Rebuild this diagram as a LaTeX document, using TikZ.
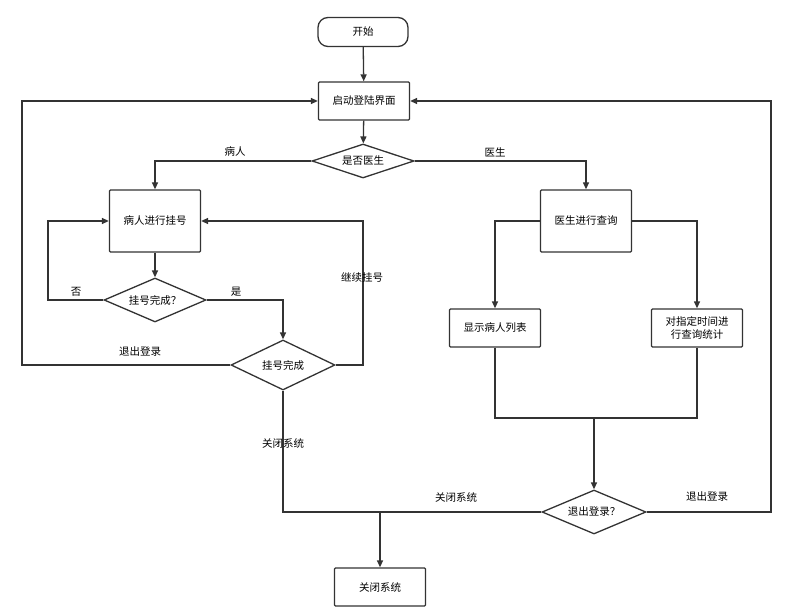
\documentclass[tikz,border=0pt]{standalone}
\usepackage{fontspec}
\setmainfont{Noto Sans CJK SC}
\usetikzlibrary{shapes.geometric,arrows.meta}
\begin{document}
\begin{tikzpicture}[x=1pt,y=-1pt,font=\fontsize{10.5}{13}\selectfont,
  line/.style={draw=black!80,line width=1.3pt},
  arr/.style={line,-{Triangle[length=7pt,width=6pt]}},
  box/.style={draw=black!80,line width=1.3pt,fill=white,minimum width=91pt,minimum height=38pt,inner sep=1pt,align=center,rounded corners=1pt},
  dia/.style={draw=black!80,line width=1.3pt,fill=white,diamond,aspect=2.6,inner sep=0pt},
  lab/.style={font=\fontsize{10.5}{13}\selectfont}]
\useasboundingbox (0,0) rectangle (799,612);
\node[draw=black!80,line width=1.3pt,rounded corners=10pt,minimum width=90pt,minimum height=29pt] (start) at (363,32) {开始};
\node[box] (login) at (364,101) {启动登陆界面};
\node[dia,minimum width=102pt,minimum height=34pt] (doc) at (363,161) {是否医生};
\node[box,minimum height=62pt] (pat) at (155,221) {病人进行挂号};
\node[box,minimum height=62pt] (dq) at (586,221) {医生进行查询};
\node[dia,minimum width=102pt,minimum height=44pt] (ok1) at (155,300) {挂号完成？};
\node[dia,minimum width=104pt,minimum height=50pt] (ok2) at (283,365) {挂号完成};
\node[box] (list) at (495,328) {显示病人列表};
\node[box] (stat) at (697,328) {对指定时间进\\行查询统计};
\node[dia,minimum width=104pt,minimum height=44pt] (out) at (594,512) {退出登录？};
\node[box] (close) at (380,587) {关闭系统};
\coordinate (j1) at (380,512);
\coordinate (j2) at (594,418);
\draw[arr] (start) -- (login);
\draw[arr] (login) -- (doc);
\draw[arr] (doc.west) -| (pat.north);
\node[lab] at (235,152) {病人};
\draw[arr] (doc.east) -| (dq.north);
\node[lab] at (495,152) {医生};
\draw[arr] (pat) -- (ok1);
\draw[arr] (ok1.west) -- (48,300) -- (48,221) -- (pat.west);
\node[lab] at (76,292) {否};
\draw[arr] (ok1.east) -| (ok2.north);
\node[lab] at (236,292) {是};
\draw[arr] (ok2.east) -- (363,365) -- (363,221) -- (pat.east);
\node[lab] at (362,278) {继续挂号};
\draw[arr] (ok2.west) -- (22,365) -- (22,101) -- (login.west);
\node[lab] at (140,352) {退出登录};
\draw[line] (ok2.south) |- (j1);
\node[lab] at (283,443) {关闭系统};
\draw[arr] (j1) -- (close);
\draw[arr] (dq.west) -| (list.north);
\draw[arr] (dq.east) -| (stat.north);
\draw[line] (list.south) |- (j2) -| (stat.south);
\draw[arr] (j2) -- (out.north);
\draw[line] (out.west) -- (j1);
\node[lab] at (456,497) {关闭系统};
\draw[arr] (out.east) -- (771,512) -- (771,101) -- (login.east);
\node[lab] at (707,497) {退出登录};
\end{tikzpicture}
\end{document}
